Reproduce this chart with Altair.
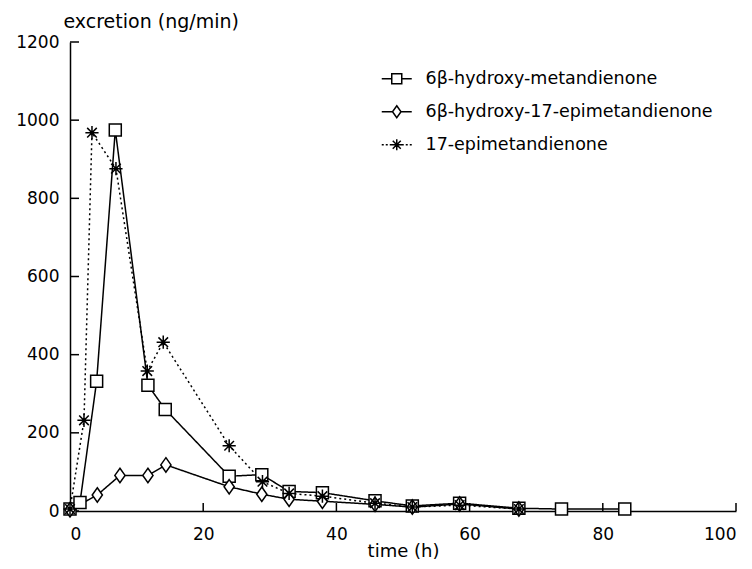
import altair as alt
import pandas as pd

series_names = ["6β-hydroxy-metandienone", "6β-hydroxy-17-epimetandienone", "17-epimetandienone"]

sq_time = [0, 1.5, 4, 6.8, 11.7, 14.3, 23.9, 28.8, 32.9, 37.9, 45.8, 51.4, 58.5, 67.4, 73.8, 83.3]
sq_val = [5, 22, 332, 975, 322, 260, 89, 93, 50, 47, 26, 13, 20, 7, 5, 5]

di_time = [0, 4.1, 7.5, 11.7, 14.4, 23.9, 28.8, 32.9, 37.9, 45.8, 51.4, 58.5, 67.4]
di_val = [3, 41, 91, 91, 118, 62, 43, 30, 25, 17, 10, 18, 5]

st_time = [0, 2.1, 3.3, 6.9, 11.6, 14.0, 23.9, 28.9, 32.9, 37.9, 45.8, 51.4, 58.5, 67.4]
st_val = [5, 232, 968, 876, 358, 432, 167, 75, 45, 38, 20, 10, 15, 5]

x_tick_values = [0, 20, 40, 60, 80, 100]
y_tick_values = [0, 200, 400, 600, 800, 1000, 1200]

rows = []
for name, ts, vs in zip(series_names, [sq_time, di_time, st_time], [sq_val, di_val, st_val]):
    for t, v in zip(ts, vs):
        rows.append({"series": name, "time": t, "value": v})
df = pd.DataFrame(rows)

FONT = "DejaVu Sans"

# marker shapes (plot) and legend symbols (line through marker)
plot_shapes = [
    "M-1,-1H1V1H-1Z",
    "M0,-1.2L0.85,0L0,1.2L-0.85,0Z",
    "M-1.1,0H1.1M0,-1.1V1.1M-0.8,-0.8L0.8,0.8M-0.8,0.8L0.8,-0.8",
]
legend_shapes = [
    "M-3,0H-1M1,0H3M-1,-1H1V1H-1Z",
    "M-3,0H-0.85M0.85,0H3M0,-1.2L0.85,0L0,1.2L-0.85,0Z",
    "M-3,0H-2.6M-2.2,0H-1.8M-1.4,0H-1.1M1.1,0H1.4M1.8,0H2.2M2.6,0H3"
    "M-1.1,0H1.1M0,-1.1V1.1M-0.8,-0.8L0.8,0.8M-0.8,0.8L0.8,-0.8",
]

x_enc = alt.X(
    "time:Q",
    scale=alt.Scale(domain=[0, 100], nice=False, zero=False),
    axis=alt.Axis(
        values=x_tick_values, ticks=False, tickSize=0, grid=False, format="d",
        labelPadding=15, title="time (h)", titleFont=FONT, titleFontSize=18,
        titleFontWeight="normal", titleY=45, titleBaseline="alphabetic",
    ),
)
y_enc = alt.Y(
    "value:Q",
    scale=alt.Scale(domain=[0, 1200], nice=False),
    axis=alt.Axis(
        values=y_tick_values, ticks=False, tickSize=0, grid=False, format="d",
        labelPadding=11, title="excretion (ng/min)", titleAngle=0,
        titleAlign="left", titleBaseline="alphabetic", titleX=-7, titleY=-15,
        titleFont=FONT, titleFontSize=19, titleFontWeight="normal",
    ),
)

base = alt.Chart(df)

lines = base.mark_line(color="black", strokeWidth=1.5).encode(
    x=x_enc,
    y=y_enc,
    detail="series:N",
    strokeDash=alt.StrokeDash(
        "series:N",
        scale=alt.Scale(domain=series_names, range=[[1, 0], [1, 0], [2, 3]]),
        legend=None,
    ),
)

points = base.mark_point(
    color="black", fill="white", filled=False, strokeWidth=1.5, size=144, opacity=1
).encode(
    x="time:Q",
    y="value:Q",
    shape=alt.Shape(
        "series:N",
        scale=alt.Scale(domain=series_names, range=plot_shapes),
        legend=None,
    ),
)

legend_layer = base.transform_filter("false").mark_point(
    color="black", filled=False, strokeWidth=1.5
).encode(
    x="time:Q",
    y="value:Q",
    shape=alt.Shape(
        "series:N",
        scale=alt.Scale(domain=series_names, range=legend_shapes),
        legend=alt.Legend(
            title=None, orient="none", legendX=318, legendY=28,
            symbolSize=100, symbolStrokeWidth=1.5, symbolStrokeColor="black",
            symbolFillColor="white", symbolOpacity=1,
            labelFont=FONT, labelFontSize=17.5, labelColor="black",
            labelOffset=20, rowPadding=14, padding=0, labelLimit=400,
        ),
    ),
)

x_ticks = alt.Chart(pd.DataFrame({"t": x_tick_values[1:]})).mark_rule(
    color="black", strokeWidth=1.5
).encode(x="t:Q", y=alt.value(469), y2=alt.value(461))

y_ticks = alt.Chart(pd.DataFrame({"v": y_tick_values})).mark_rule(
    color="black", strokeWidth=1.5
).encode(y="v:Q", x=alt.value(0), x2=alt.value(9))

chart = (
    alt.layer(lines, x_ticks, y_ticks, points, legend_layer)
    .resolve_scale(shape="independent")
    .properties(
        width=666,
        height=469,
        autosize=alt.AutoSizeParams(type="none"),
        padding={"left": 70, "top": 42, "right": 16, "bottom": 58},
        background="white",
    )
    .configure_view(stroke=None)
    .configure_axis(
        labelFont=FONT, labelFontSize=17, labelColor="black",
        titleColor="black", domainColor="black", domainWidth=1.5,
    )
)

chart.save("out.html", embed_options={"renderer": "svg", "actions": False})
